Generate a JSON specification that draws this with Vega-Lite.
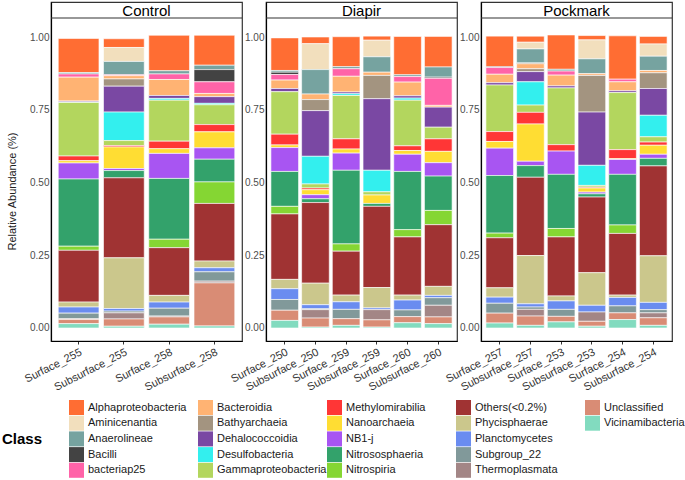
{
"$schema": "https://vega.github.io/schema/vega-lite/v6.json",
"padding": {"left": 2, "top": 1, "right": 0, "bottom": 0},
"background": "white",
"bounds": "flush",
"spacing": 24,
"config": {
  "font": "Liberation Sans",
  "view": {"stroke": "#333333", "strokeWidth": 1.2},
  "axis": {"labelFont": "Liberation Sans", "titleFont": "Liberation Sans", "labelColor": "#4D4D4D", "labelFontSize": 10, "grid": false, "domainColor": "black", "domainWidth": 1.2, "tickColor": "#333333", "tickSize": 3}
},
"datasets": {
  "classes": [
    {"key": "Alp", "Class": "Alphaproteobacteria", "k": 0},
    {"key": "Ami", "Class": "Aminicenantia", "k": 1},
    {"key": "Ana", "Class": "Anaerolineae", "k": 2},
    {"key": "Bac", "Class": "Bacilli", "k": 3},
    {"key": "p25", "Class": "bacteriap25", "k": 4},
    {"key": "Bcd", "Class": "Bacteroidia", "k": 5},
    {"key": "Bat", "Class": "Bathyarchaeia", "k": 6},
    {"key": "Deh", "Class": "Dehalococcoidia", "k": 7},
    {"key": "Des", "Class": "Desulfobacteria", "k": 8},
    {"key": "Gam", "Class": "Gammaproteobacteria", "k": 9},
    {"key": "Met", "Class": "Methylomirabilia", "k": 10},
    {"key": "Nan", "Class": "Nanoarchaeia", "k": 11},
    {"key": "NB1", "Class": "NB1-j", "k": 12},
    {"key": "Nso", "Class": "Nitrososphaeria", "k": 13},
    {"key": "Nsp", "Class": "Nitrospiria", "k": 14},
    {"key": "Oth", "Class": "Others(<0.2%)", "k": 15},
    {"key": "Phy", "Class": "Phycisphaerae", "k": 16},
    {"key": "Pla", "Class": "Planctomycetes", "k": 17},
    {"key": "Sub", "Class": "Subgroup_22", "k": 18},
    {"key": "The", "Class": "Thermoplasmata", "k": 19},
    {"key": "Unc", "Class": "Unclassified", "k": 20},
    {"key": "Vic", "Class": "Vicinamibacteria", "k": 21}
  ]
},
"data": {"values": [
  {"g": "Control", "s": "Surface_255", "Alp": 0.117, "Ana": 0.005, "p25": 0.011, "Bcd": 0.082, "Deh": 0.003, "Des": 0.002, "Gam": 0.184, "Met": 0.016, "Nan": 0.008, "NB1": 0.055, "Nso": 0.231, "Nsp": 0.014, "Oth": 0.178, "Phy": 0.017, "Pla": 0.021, "Sub": 0.019, "The": 0.003, "Unc": 0.014, "Vic": 0.015},
  {"g": "Control", "s": "Subsurface_255", "Alp": 0.030, "Ami": 0.048, "Ana": 0.046, "p25": 0.003, "Bcd": 0.011, "Bat": 0.025, "Deh": 0.089, "Des": 0.098, "Gam": 0.017, "Met": 0.005, "Nan": 0.074, "NB1": 0.007, "Nso": 0.025, "Oth": 0.275, "Phy": 0.174, "Pla": 0.009, "Sub": 0.006, "The": 0.021, "Unc": 0.025, "Vic": 0.006},
  {"g": "Control", "s": "Surface_258", "Alp": 0.122, "Ana": 0.011, "p25": 0.019, "Bcd": 0.055, "Deh": 0.010, "Des": 0.006, "Gam": 0.141, "Met": 0.026, "Nan": 0.016, "NB1": 0.086, "Nso": 0.209, "Nsp": 0.029, "Oth": 0.164, "Phy": 0.023, "Pla": 0.021, "Sub": 0.027, "The": 0.003, "Unc": 0.025, "Vic": 0.013},
  {"g": "Control", "s": "Subsurface_258", "Alp": 0.103, "Ana": 0.015, "Bac": 0.042, "p25": 0.040, "Bcd": 0.011, "Deh": 0.023, "Des": 0.005, "Gam": 0.068, "Met": 0.025, "Nan": 0.055, "NB1": 0.039, "Nso": 0.078, "Nsp": 0.074, "Oth": 0.198, "Phy": 0.023, "Pla": 0.014, "Sub": 0.032, "The": 0.006, "Unc": 0.148, "Vic": 0.007},
  {"g": "Diapir", "s": "Surface_250", "Alp": 0.112, "Ana": 0.006, "Bac": 0.008, "p25": 0.019, "Bcd": 0.029, "Deh": 0.011, "Gam": 0.146, "Met": 0.037, "Nan": 0.009, "NB1": 0.082, "Nso": 0.120, "Nsp": 0.026, "Oth": 0.225, "Phy": 0.032, "Pla": 0.037, "Sub": 0.037, "Unc": 0.035, "Vic": 0.026},
  {"g": "Diapir", "s": "Subsurface_250", "Alp": 0.023, "Ami": 0.089, "Ana": 0.084, "Bcd": 0.019, "Bat": 0.038, "Deh": 0.157, "Des": 0.095, "Gam": 0.014, "Met": 0.006, "Nan": 0.017, "NB1": 0.014, "Nso": 0.013, "Oth": 0.277, "Phy": 0.074, "Pla": 0.014, "Sub": 0.003, "The": 0.029, "Unc": 0.031, "Vic": 0.003},
  {"g": "Diapir", "s": "Surface_259", "Alp": 0.103, "Ana": 0.007, "p25": 0.026, "Bcd": 0.054, "Deh": 0.006, "Des": 0.006, "Gam": 0.149, "Met": 0.035, "Nan": 0.014, "NB1": 0.059, "Nso": 0.253, "Nsp": 0.025, "Oth": 0.151, "Phy": 0.023, "Pla": 0.026, "Sub": 0.032, "Unc": 0.023, "Vic": 0.009},
  {"g": "Diapir", "s": "Subsurface_259", "Alp": 0.014, "Ami": 0.057, "Ana": 0.053, "Bcd": 0.011, "Bat": 0.080, "Deh": 0.246, "Des": 0.074, "Gam": 0.011, "Nan": 0.029, "Nso": 0.010, "Oth": 0.279, "Phy": 0.070, "Pla": 0.006, "The": 0.035, "Unc": 0.025, "Vic": 0.003},
  {"g": "Diapir", "s": "Surface_260", "Alp": 0.132, "Ana": 0.006, "p25": 0.019, "Bcd": 0.047, "Deh": 0.008, "Des": 0.007, "Gam": 0.157, "Met": 0.016, "Nan": 0.013, "NB1": 0.059, "Nso": 0.200, "Nsp": 0.025, "Oth": 0.200, "Phy": 0.017, "Pla": 0.034, "Sub": 0.023, "Unc": 0.021, "Vic": 0.018},
  {"g": "Diapir", "s": "Subsurface_260", "Alp": 0.105, "Ana": 0.035, "Bac": 0.004, "p25": 0.093, "Bcd": 0.006, "Deh": 0.069, "Gam": 0.040, "Met": 0.043, "Nan": 0.039, "NB1": 0.046, "Nso": 0.118, "Nsp": 0.049, "Oth": 0.212, "Phy": 0.031, "Pla": 0.008, "Sub": 0.026, "The": 0.040, "Unc": 0.023, "Vic": 0.015},
  {"g": "Pockmark", "s": "Surface_257", "Alp": 0.105, "Bac": 0.003, "p25": 0.023, "Bcd": 0.029, "Deh": 0.008, "Gam": 0.160, "Met": 0.034, "Nan": 0.023, "NB1": 0.094, "Nso": 0.198, "Nsp": 0.016, "Oth": 0.172, "Phy": 0.032, "Pla": 0.021, "Sub": 0.034, "Unc": 0.034, "Vic": 0.017},
  {"g": "Pockmark", "s": "Subsurface_257", "Alp": 0.021, "Ami": 0.023, "Ana": 0.048, "Bac": 0.003, "Bcd": 0.017, "Bat": 0.010, "Deh": 0.035, "Des": 0.080, "Gam": 0.025, "Met": 0.040, "Nan": 0.128, "NB1": 0.015, "Nso": 0.040, "Oth": 0.269, "Phy": 0.166, "Pla": 0.011, "Sub": 0.008, "The": 0.023, "Unc": 0.032, "Vic": 0.009},
  {"g": "Pockmark", "s": "Surface_253", "Alp": 0.118, "Ana": 0.006, "p25": 0.014, "Bcd": 0.037, "Deh": 0.007, "Gam": 0.195, "Met": 0.022, "NB1": 0.080, "Nso": 0.186, "Nsp": 0.029, "Oth": 0.203, "Phy": 0.017, "Pla": 0.029, "Sub": 0.024, "Unc": 0.019, "Vic": 0.021},
  {"g": "Pockmark", "s": "Subsurface_253", "Alp": 0.015, "Ami": 0.065, "Ana": 0.051, "Bcd": 0.006, "Bat": 0.126, "Deh": 0.183, "Des": 0.069, "Gam": 0.006, "Met": 0.003, "Nan": 0.014, "NB1": 0.006, "Nso": 0.011, "Oth": 0.260, "Phy": 0.112, "Pla": 0.023, "The": 0.032, "Unc": 0.017, "Vic": 0.006},
  {"g": "Pockmark", "s": "Surface_254", "Alp": 0.149, "p25": 0.009, "Bcd": 0.031, "Deh": 0.006, "Gam": 0.196, "Met": 0.031, "Nan": 0.003, "NB1": 0.051, "Nso": 0.174, "Nsp": 0.029, "Oth": 0.212, "Phy": 0.008, "Pla": 0.029, "Sub": 0.024, "Unc": 0.023, "Vic": 0.029},
  {"g": "Pockmark", "s": "Subsurface_254", "Alp": 0.026, "Ami": 0.042, "Ana": 0.049, "Bcd": 0.008, "Bat": 0.054, "Deh": 0.092, "Des": 0.074, "Gam": 0.018, "Met": 0.011, "Nan": 0.031, "NB1": 0.014, "Nso": 0.026, "Oth": 0.309, "Phy": 0.160, "Pla": 0.025, "Sub": 0.011, "The": 0.017, "Unc": 0.026, "Vic": 0.009}
]},
"transform": [
  {"fold": ["Alp","Ami","Ana","Bac","p25","Bcd","Bat","Deh","Des","Gam","Met","Nan","NB1","Nso","Nsp","Oth","Phy","Pla","Sub","The","Unc","Vic"], "as": ["key", "v"]},
  {"filter": "isValid(datum.v) && datum.v > 0"},
  {"lookup": "key", "from": {"data": {"name": "classes"}, "key": "key", "fields": ["Class", "k"]}}
],
"hconcat": [
  {
    "width": 191, "height": 339,
    "resolve": {"scale": {"x": "independent"}, "axis": {"x": "independent"}},
    "layer": [
      {
        "transform": [{"filter": "datum.g == 'Control'"}],
        "mark": {"type": "bar", "stroke": "white", "strokeWidth": 0.6},
        "encoding": {
          "x": {"field": "s", "type": "nominal", "sort": ["Surface_255","Subsurface_255","Surface_258","Subsurface_258"], "scale": {"paddingInner": 0.1, "paddingOuter": 0.16}, "axis": {"title": null, "labelAngle": -27, "labelAlign": "right", "labelBaseline": "top", "labelPadding": 2, "labelFontSize": 11, "labelColor": "#333333"}},
          "y": {"field": "v", "type": "quantitative", "stack": "zero", "scale": {"domain": [-0.0447, 1.1203], "nice": false, "zero": false}, "axis": {"values": [0, 0.25, 0.5, 0.75, 1], "format": ".2f", "ticks": false, "labelPadding": 2, "title": "Relative Abundance (%)", "titleFontSize": 11, "titleFontWeight": "normal", "titleColor": "#222222", "titlePadding": 12, "titleY": 189}},
          "color": {"field": "Class", "type": "nominal",
            "scale": {
              "domain": ["Alphaproteobacteria","Aminicenantia","Anaerolineae","Bacilli","bacteriap25","Bacteroidia","Bathyarchaeia","Dehalococcoidia","Desulfobacteria","Gammaproteobacteria","Methylomirabilia","Nanoarchaeia","NB1-j","Nitrososphaeria","Nitrospiria","Others(<0.2%)","Phycisphaerae","Planctomycetes","Subgroup_22","Thermoplasmata","Unclassified","Vicinamibacteria"," ","  ","   "],
              "range": ["#FF6D33","#F2DFBD","#76A3A0","#434343","#FF63A8","#FFB373","#A39480","#7A48A3","#33EFEE","#B3D65E","#FF3636","#FFDD33","#A855F2","#33A26B","#85D633","#A03333","#CBC78C","#6A8CF0","#81999A","#A38686","#D98C75","#82DBBF","#FFFFFF","#FFFFFF","#FFFFFF"]
            },
            "legend": {"orient": "none", "legendX": -49, "legendY": 398, "columns": 5, "direction": "vertical", "gridAlign": "all", "title": "Class", "titleOrient": "left", "titleFontSize": 15, "titleFontWeight": "bold", "titleColor": "black", "titlePadding": 26, "titleAnchor": "middle", "titleBaseline": "middle", "symbolType": "square", "symbolSize": 225, "symbolStrokeWidth": 0, "symbolOpacity": 1, "labelFontSize": 11, "labelColor": "#1A1A1A", "labelOffset": 4, "labelLimit": 0, "columnPadding": 0, "rowPadding": 0.7, "padding": 0}
          },
          "order": {"field": "k", "type": "quantitative", "sort": "descending"}
        }
      },
      {"data": {"values": [{"g": "Control"}]}, "mark": {"type": "rule", "color": "#333333", "strokeWidth": 1.2}, "encoding": {"x": {"datum": 0, "type": "quantitative", "scale": {"domain": [0, 1], "nice": false, "zero": false}, "axis": null}, "x2": {"datum": 1}, "y": {"datum": 1.0653}}},
      {"data": {"values": [{"g": "Control"}]}, "mark": {"type": "text", "fontSize": 15, "color": "black", "baseline": "alphabetic", "align": "center"}, "encoding": {"text": {"field": "g"}, "x": {"datum": 0.5, "type": "quantitative", "scale": {"domain": [0, 1], "nice": false, "zero": false}, "axis": null}, "y": {"datum": 1.073}}}
    ]
  },
  {
    "width": 191, "height": 339,
    "resolve": {"scale": {"x": "independent"}, "axis": {"x": "independent"}},
    "layer": [
      {
        "transform": [{"filter": "datum.g == 'Diapir'"}],
        "mark": {"type": "bar", "stroke": "white", "strokeWidth": 0.6},
        "encoding": {
          "x": {"field": "s", "type": "nominal", "sort": ["Surface_250","Subsurface_250","Surface_259","Subsurface_259","Surface_260","Subsurface_260"], "scale": {"paddingInner": 0.1, "paddingOuter": 0.16}, "axis": {"title": null, "labelAngle": -27, "labelAlign": "right", "labelBaseline": "top", "labelPadding": 2, "labelFontSize": 11, "labelColor": "#333333"}},
          "y": {"field": "v", "type": "quantitative", "stack": "zero", "scale": {"domain": [-0.0447, 1.1203], "nice": false, "zero": false}, "axis": {"values": [0, 0.25, 0.5, 0.75, 1], "format": ".2f", "ticks": false, "labelPadding": 2, "title": null}},
          "color": {"field": "Class", "type": "nominal"},
          "order": {"field": "k", "type": "quantitative", "sort": "descending"}
        }
      },
      {"data": {"values": [{"g": "Diapir"}]}, "mark": {"type": "rule", "color": "#333333", "strokeWidth": 1.2}, "encoding": {"x": {"datum": 0, "type": "quantitative", "scale": {"domain": [0, 1], "nice": false, "zero": false}, "axis": null}, "x2": {"datum": 1}, "y": {"datum": 1.0653}}},
      {"data": {"values": [{"g": "Diapir"}]}, "mark": {"type": "text", "fontSize": 15, "color": "black", "baseline": "alphabetic", "align": "center"}, "encoding": {"text": {"field": "g"}, "x": {"datum": 0.5, "type": "quantitative", "scale": {"domain": [0, 1], "nice": false, "zero": false}, "axis": null}, "y": {"datum": 1.073}}}
    ]
  },
  {
    "width": 191, "height": 339,
    "resolve": {"scale": {"x": "independent"}, "axis": {"x": "independent"}},
    "layer": [
      {
        "transform": [{"filter": "datum.g == 'Pockmark'"}],
        "mark": {"type": "bar", "stroke": "white", "strokeWidth": 0.6},
        "encoding": {
          "x": {"field": "s", "type": "nominal", "sort": ["Surface_257","Subsurface_257","Surface_253","Subsurface_253","Surface_254","Subsurface_254"], "scale": {"paddingInner": 0.1, "paddingOuter": 0.16}, "axis": {"title": null, "labelAngle": -27, "labelAlign": "right", "labelBaseline": "top", "labelPadding": 2, "labelFontSize": 11, "labelColor": "#333333"}},
          "y": {"field": "v", "type": "quantitative", "stack": "zero", "scale": {"domain": [-0.0447, 1.1203], "nice": false, "zero": false}, "axis": {"values": [0, 0.25, 0.5, 0.75, 1], "format": ".2f", "ticks": false, "labelPadding": 2, "title": null}},
          "color": {"field": "Class", "type": "nominal"},
          "order": {"field": "k", "type": "quantitative", "sort": "descending"}
        }
      },
      {"data": {"values": [{"g": "Pockmark"}]}, "mark": {"type": "rule", "color": "#333333", "strokeWidth": 1.2}, "encoding": {"x": {"datum": 0, "type": "quantitative", "scale": {"domain": [0, 1], "nice": false, "zero": false}, "axis": null}, "x2": {"datum": 1}, "y": {"datum": 1.0653}}},
      {"data": {"values": [{"g": "Pockmark"}]}, "mark": {"type": "text", "fontSize": 15, "color": "black", "baseline": "alphabetic", "align": "center"}, "encoding": {"text": {"field": "g"}, "x": {"datum": 0.5, "type": "quantitative", "scale": {"domain": [0, 1], "nice": false, "zero": false}, "axis": null}, "y": {"datum": 1.073}}}
    ]
  }
]
}
